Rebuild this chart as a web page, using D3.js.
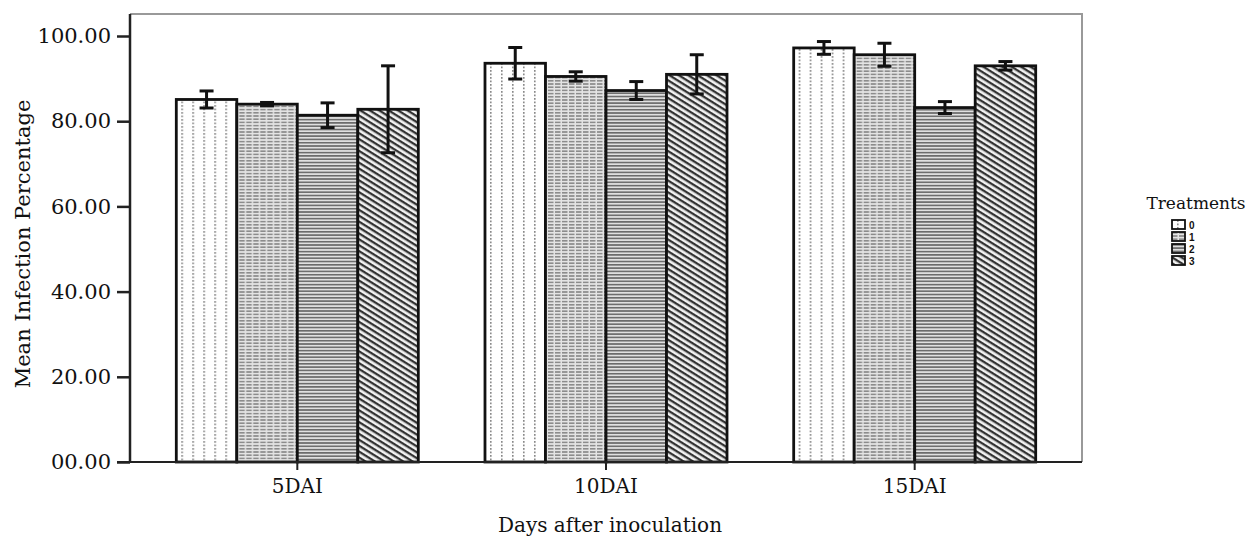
<!DOCTYPE html>
<html>
<head>
<meta charset="utf-8">
<script src="https://cdn.jsdelivr.net/npm/d3@7"></script>
<style>
  body { margin: 0; background: #fff; }
  text { font-family: "DejaVu Serif", "Liberation Serif", serif; }
</style>
</head>
<body>
<div id="chart"></div>
<script>
// data
var days = ["5DAI", "10DAI", "15DAI"];
var treatments = ["0", "1", "2", "3"];
var means5DAI  = [85.1, 84.0, 81.4, 82.8];
var means10DAI = [93.6, 90.5, 87.2, 91.0];
var means15DAI = [97.2, 95.6, 83.2, 93.0];
var err5DAI  = [2.0, 0.4, 2.9, 10.2];
var err10DAI = [3.7, 1.1, 2.1, 4.6];
var err15DAI = [1.5, 2.7, 1.4, 1.0];
var yTicks = [0, 20, 40, 60, 80, 100];

var allMeans = [means5DAI, means10DAI, means15DAI];
var allErrs = [err5DAI, err10DAI, err15DAI];

var W = 1249, H = 538;
var plot = { left: 130, right: 1082, top: 14, bottom: 462 };

var svg = d3.select("#chart").append("svg")
    .attr("width", W)
    .attr("height", H);

// fill patterns
var defs = svg.append("defs");

var p0 = defs.append("pattern").attr("id", "pat0")
    .attr("patternUnits", "userSpaceOnUse").attr("width", 11).attr("height", 3.5);
p0.append("rect").attr("width", 11).attr("height", 3.5).attr("fill", "#fff");
p0.append("rect").attr("x", 5).attr("y", 0).attr("width", 1.6).attr("height", 1.8).attr("fill", "#8a8a8a");

var p1 = defs.append("pattern").attr("id", "pat1")
    .attr("patternUnits", "userSpaceOnUse").attr("width", 7).attr("height", 3.2);
p1.append("rect").attr("width", 7).attr("height", 3.2).attr("fill", "#e4e4e4");
p1.append("rect").attr("x", 0).attr("y", 0).attr("width", 5.5).attr("height", 1.6).attr("fill", "#8c8c8c");

var p2 = defs.append("pattern").attr("id", "pat2")
    .attr("patternUnits", "userSpaceOnUse").attr("width", 6).attr("height", 3.3);
p2.append("rect").attr("width", 6).attr("height", 3.3).attr("fill", "#e0e0e0");
p2.append("rect").attr("x", 0).attr("y", 0).attr("width", 6).attr("height", 1.6).attr("fill", "#6a6a6a");

var p3 = defs.append("pattern").attr("id", "pat3")
    .attr("patternUnits", "userSpaceOnUse").attr("width", 8).attr("height", 5)
    .attr("patternTransform", "rotate(32)");
p3.append("rect").attr("width", 8).attr("height", 5).attr("fill", "#f2f2f2");
p3.append("rect").attr("x", 0).attr("y", 0).attr("width", 8).attr("height", 2.3).attr("fill", "#333");

// scales
var x = d3.scaleBand()
    .domain(days)
    .range([plot.left, plot.right])
    .paddingInner(0.216)
    .paddingOuter(0.15);

var xSub = d3.scaleBand()
    .domain(treatments)
    .range([0, x.bandwidth()]);

var y = d3.scaleLinear()
    .domain([0, 100])
    .range([plot.bottom, 36]);

// frame (grey top and right)
svg.append("path")
    .attr("d", "M" + plot.left + "," + plot.top + "H" + plot.right + "V" + plot.bottom)
    .attr("fill", "none")
    .attr("stroke", "#999")
    .attr("stroke-width", 2);

// bars
var groups = svg.selectAll(".day")
    .data(days)
    .enter().append("g")
    .attr("class", "day")
    .attr("transform", function(d) { return "translate(" + x(d) + ",0)"; });

groups.selectAll("rect.bar")
    .data(function(d, i) {
        return treatments.map(function(t, j) {
            return { t: t, j: j, v: allMeans[i][j], e: allErrs[i][j] };
        });
    })
    .enter().append("rect")
    .attr("class", "bar")
    .attr("x", function(d) { return xSub(d.t); })
    .attr("y", function(d) { return y(d.v); })
    .attr("width", xSub.bandwidth())
    .attr("height", function(d) { return y(0) - y(d.v); })
    .attr("fill", function(d) { return "url(#pat" + d.j + ")"; })
    .attr("stroke", "#111")
    .attr("stroke-width", 2.8);

// error bars
var eb = groups.selectAll("g.err")
    .data(function(d, i) {
        return treatments.map(function(t, j) {
            return { t: t, v: allMeans[i][j], e: allErrs[i][j] };
        });
    })
    .enter().append("g")
    .attr("class", "err")
    .attr("transform", function(d) { return "translate(" + (xSub(d.t) + xSub.bandwidth() / 2) + ",0)"; });

eb.append("line")
    .attr("y1", function(d) { return y(d.v - d.e); })
    .attr("y2", function(d) { return y(d.v + d.e); })
    .attr("stroke", "#111").attr("stroke-width", 3);
eb.append("line")
    .attr("x1", -7).attr("x2", 7)
    .attr("y1", function(d) { return y(d.v + d.e); })
    .attr("y2", function(d) { return y(d.v + d.e); })
    .attr("stroke", "#111").attr("stroke-width", 3);
eb.append("line")
    .attr("x1", -7).attr("x2", 7)
    .attr("y1", function(d) { return y(d.v - d.e); })
    .attr("y2", function(d) { return y(d.v - d.e); })
    .attr("stroke", "#111").attr("stroke-width", 3);

// axes
var yAxis = svg.append("g")
    .attr("transform", "translate(" + plot.left + ",0)")
    .call(d3.axisLeft(y).tickValues(yTicks).tickSize(13).tickPadding(6).tickFormat(d3.format("05.2f")));
yAxis.select(".domain").remove();
yAxis.append("line")
    .attr("x1", 0).attr("x2", 0)
    .attr("y1", plot.top).attr("y2", plot.bottom)
    .attr("stroke", "#222").attr("stroke-width", 2.5);
yAxis.selectAll(".tick line").attr("stroke", "#222").attr("stroke-width", 2.5);
yAxis.selectAll("text")
    .attr("fill", "#111")
    .style("font-family", "'DejaVu Serif', serif")
    .style("font-size", "21px");

var xAxis = svg.append("g")
    .attr("transform", "translate(0," + plot.bottom + ")")
    .call(d3.axisBottom(x).tickSize(8).tickPadding(9));
xAxis.select(".domain").remove();
xAxis.append("line")
    .attr("x1", plot.left - 13).attr("x2", plot.right)
    .attr("stroke", "#222").attr("stroke-width", 2);
xAxis.selectAll(".tick line").attr("stroke", "#222").attr("stroke-width", 2);
xAxis.selectAll("text")
    .attr("fill", "#111")
    .style("font-family", "'DejaVu Serif', serif")
    .style("font-size", "20px");

// axis titles
svg.append("text")
    .attr("x", (plot.left + plot.right) / 2 + 4)
    .attr("y", 532)
    .attr("text-anchor", "middle")
    .attr("fill", "#111")
    .style("font-size", "20px")
    .text("Days after inoculation");

svg.append("text")
    .attr("transform", "translate(30," + ((plot.top + plot.bottom) / 2 + 6) + ") rotate(-90)")
    .attr("text-anchor", "middle")
    .attr("fill", "#111")
    .style("font-size", "21px")
    .text("Mean Infection Percentage");

// legend
var legend = svg.append("g").attr("transform", "translate(1172,0)");
legend.append("text")
    .attr("x", 24).attr("y", 209)
    .attr("text-anchor", "middle")
    .attr("fill", "#111")
    .style("font-size", "17px")
    .text("Treatments");

var li = legend.selectAll(".li")
    .data(treatments)
    .enter().append("g")
    .attr("class", "li")
    .attr("transform", function(d, i) { return "translate(0," + (220 + i * 12) + ")"; });
li.append("rect")
    .attr("width", 13).attr("height", 9)
    .attr("fill", function(d, i) { return "url(#pat" + i + ")"; })
    .attr("stroke", "#111").attr("stroke-width", 1.8);
li.append("text")
    .attr("x", 17).attr("y", 8.5)
    .attr("fill", "#111")
    .style("font-family", "'Liberation Sans', Arial, sans-serif")
    .style("font-weight", "bold")
    .style("font-size", "10px")
    .text(function(d) { return d; });
</script>
</body>
</html>
